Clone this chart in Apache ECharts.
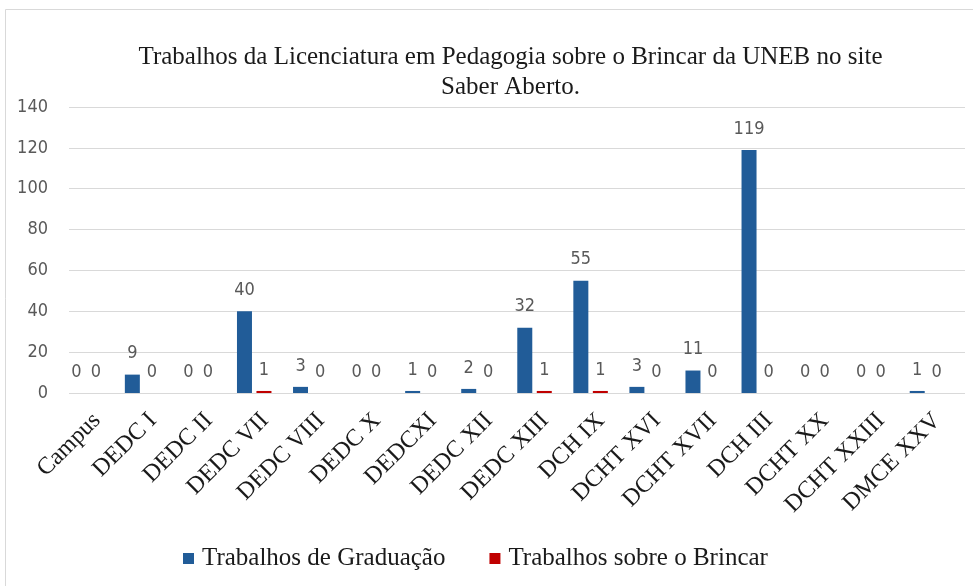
<!DOCTYPE html>
<html>
<head>
<meta charset="utf-8">
<script src="https://cdn.jsdelivr.net/npm/echarts@6/dist/echarts.min.js"></script>
<style>
html,body{margin:0;padding:0;background:#fff;}
#chart{width:973px;height:586px;}
</style>
</head>
<body>
<div id="chart"></div>
<script>
const categories = ["Campus","DEDC I","DEDC II","DEDC VII","DEDC VIII","DEDC X","DEDCXI","DEDC XII","DEDC XIII","DCH IX","DCHT XVI","DCHT XVII","DCH III","DCHT XX","DCHT XXIII","DMCE XXV"];
const graduacao = [0,9,0,40,3,0,1,2,32,55,3,11,119,0,0,1];
const brincar = [0,0,0,1,0,0,0,0,1,1,0,0,0,0,0,0];
const seriesNames = ["Trabalhos de Graduação","Trabalhos sobre o Brincar"];
const titleText = "Trabalhos da Licenciatura em Pedagogia sobre o Brincar da UNEB no site\nSaber Aberto.";

const serif = "'Liberation Serif','Times New Roman',serif";
const narrow = "'Liberation Sans Narrow','Arial Narrow','DejaVu Sans Condensed',sans-serif";

const chart = echarts.init(document.getElementById('chart'), null, {renderer:'canvas'});
const valueLabel = {show:true, position:'top', distance:12, color:'#595959', fontFamily:narrow, fontSize:18};
chart.setOption({
  animation:false,
  backgroundColor:'#fff',
  graphic:[
    {type:'rect', shape:{x:5.5,y:9.5,width:1000,height:620}, style:{fill:'none', stroke:'#d9d9d9', lineWidth:1}, silent:true},
    {type:'text', x:510.5, y:42, silent:true,
      style:{text:titleText, fontFamily:serif, fontSize:25, fill:'#1a1a1a', lineHeight:30, align:'center', verticalAlign:'top'}}
  ],
  legend:{bottom:10, left:178, itemWidth:11, itemHeight:11, itemGap:44, icon:'rect',
    textStyle:{fontFamily:serif, fontSize:25, color:'#1a1a1a', padding:[0,0,0,3]}, data:seriesNames},
  grid:[
    {left:69, right:8, top:107, bottom:193},
    {left:58, right:18, top:107, bottom:193}
  ],
  xAxis:[
    {type:'category', gridIndex:0, data:categories,
      axisLine:{show:false}, axisTick:{show:false},
      axisLabel:{interval:0, rotate:45, margin:24, fontFamily:serif, fontSize:24, color:'#1a1a1a'}},
    {type:'category', gridIndex:1, data:categories, show:false}
  ],
  yAxis:[
    {type:'value', gridIndex:0, min:0, max:140, interval:20,
      axisLine:{show:false}, axisTick:{show:false},
      axisLabel:{margin:21, fontFamily:narrow, fontSize:18, color:'#595959'},
      splitLine:{lineStyle:{color:'#d9d9d9', width:1}}},
    {type:'value', gridIndex:1, min:0, max:140, interval:20, show:false, splitLine:{show:false}}
  ],
  series:[
    {name:seriesNames[0], type:'bar', xAxisIndex:1, yAxisIndex:1, data:graduacao, barWidth:15, barGap:'30%',
      itemStyle:{color:'#215C98'}, label:valueLabel},
    {name:seriesNames[1], type:'bar', xAxisIndex:1, yAxisIndex:1, data:brincar, barWidth:15, barGap:'30%',
      itemStyle:{color:'#C00000'}, label:valueLabel}
  ]
});
</script>
</body>
</html>
